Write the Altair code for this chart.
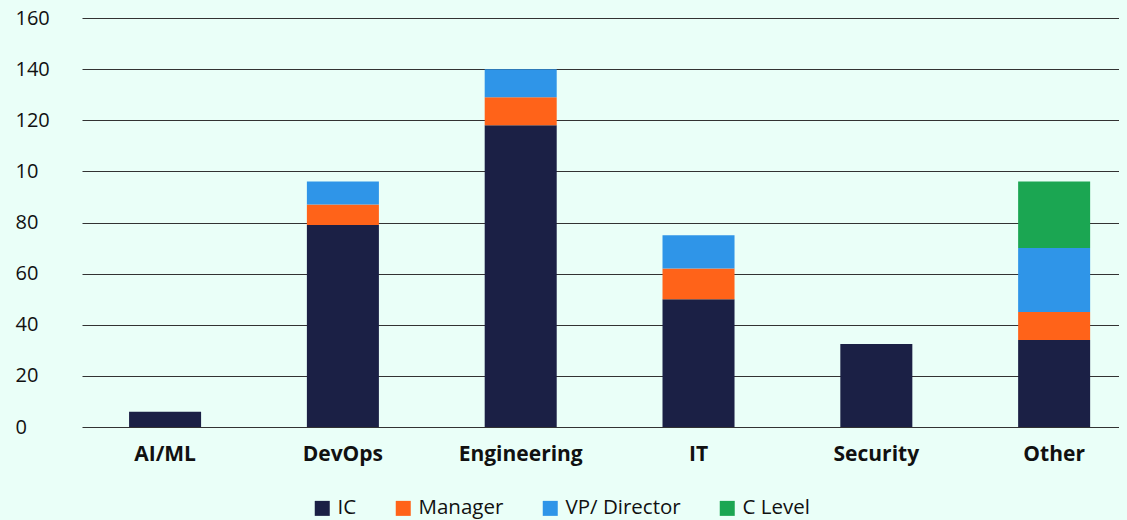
import altair as alt
import pandas as pd
import jinja2

categories = ["AI/ML", "DevOps", "Engineering", "IT", "Security", "Other"]
roles = ["IC", "Manager", "VP/ Director", "C Level"]
ic = [6, 79, 118, 50, 32.5, 34]
manager = [0, 8, 11, 12, 0, 11]
vp = [0, 9, 11, 13, 0, 25]
c_level = [0, 0, 0, 0, 0, 26]
colors = ["#1B2045", "#FF6319", "#2F95E8", "#1BA652"]
BG = "#EAFFF8"

rows = []
for i, cat in enumerate(categories):
    for j, (role, vals) in enumerate(zip(roles, [ic, manager, vp, c_level])):
        if vals[i] > 0:
            rows.append({"category": cat, "role": role, "value": vals[i], "order": j})
df = pd.DataFrame(rows)

font = "Open Sans"

chart = alt.Chart(df).mark_bar().encode(
    x=alt.X("category:N", sort=categories,
            scale=alt.Scale(paddingInner=0.595, paddingOuter=0.2135, align=0.62),
            axis=alt.Axis(title=None, labelAngle=0, domain=False, ticks=False,
                          labelPadding=16, labelFontSize=21, labelFontWeight="bold",
                          labelFont=font, labelColor="#111111", grid=False)),
    y=alt.Y("value:Q", stack="zero",
            scale=alt.Scale(domain=[0, 160], nice=False),
            axis=alt.Axis(title=None, values=[0, 20, 40, 60, 80, 100, 120, 140, 160],
                          labelExpr="datum.value == 100 ? '10' : datum.label",
                          domain=False, ticks=False, labelAlign="left", labelPadding=67,
                          labelFontSize=20, labelFont=font, labelColor="#111111",
                          gridColor="#333333", gridWidth=1.2, gridOpacity=1)),
    color=alt.Color("role:N", sort=roles,
                    scale=alt.Scale(domain=roles, range=colors),
                    legend=alt.Legend(title=None, orient="none", direction="horizontal",
                                      legendX=230, legendY=480, symbolType="square",
                                      symbolSize=225, symbolStrokeWidth=0,
                                      symbolOpacity=1, labelFontSize=20.5, labelFont=font,
                                      labelColor="#111111", columnPadding=36,
                                      labelOffset=5)),
    order=alt.Order("order:Q"),
).properties(
    width=1037, height=409,
    background=BG,
    padding={"left": 7, "top": 0, "right": 0, "bottom": 0},
).configure_view(stroke=None)

TEMPLATE = jinja2.Template("""<!DOCTYPE html>
<html>
<head>
  <style>
    html, body { background: """ + BG + """; }
    #{{ output_div }}.vega-embed { width: 100%; display: flex; }
  </style>
  <script type="text/javascript" src="{{ base_url }}/vega@{{ vega_version }}"></script>
  <script type="text/javascript" src="{{ base_url }}/vega-lite@{{ vegalite_version }}"></script>
  <script type="text/javascript" src="{{ base_url }}/vega-embed@{{ vegaembed_version }}"></script>
</head>
<body>
  <div id="{{ output_div }}"></div>
  <script>
    (function(vegaEmbed) {
      var spec = {{ spec }};
      var embedOpt = {{ embed_options }};
      vegaEmbed("#{{ output_div }}", spec, embedOpt).catch(function(err) {
        document.getElementById("{{ output_div }}").innerHTML = String(err);
      });
    })(vegaEmbed);
  </script>
</body>
</html>
""")

chart.save("out.html", embed_options={"renderer": "svg", "actions": False}, template=TEMPLATE)
